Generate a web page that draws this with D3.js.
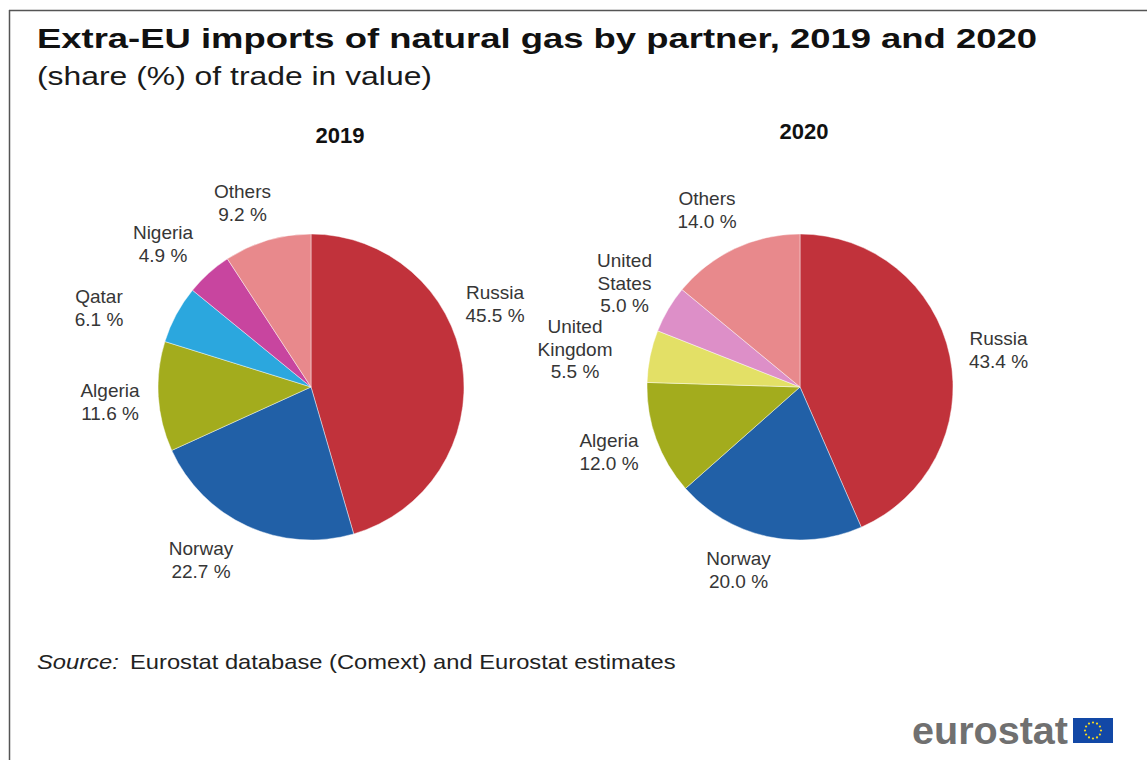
<!DOCTYPE html>
<html>
<head>
<meta charset="utf-8">
<script src="https://cdn.jsdelivr.net/npm/d3@7"></script>
<style>
  html, body { margin: 0; padding: 0; background: #fff; }
  svg { display: block; font-family: "Liberation Sans", Arial, sans-serif; }
</style>
</head>
<body>
<svg id="chart" width="1147" height="760"></svg>
<script>
// ---------------- DATA ----------------
const years = ["2019", "2020"];
const partners2019 = ["Russia", "Norway", "Algeria", "Qatar", "Nigeria", "Others"];
const shares2019 = [45.5, 22.7, 11.6, 6.1, 4.9, 9.2];
const partners2020 = ["Russia", "Norway", "Algeria", "United Kingdom", "United States", "Others"];
const shares2020 = [43.4, 20.0, 12.0, 5.5, 5.0, 14.0];

const titleText = "Extra-EU imports of natural gas by partner, 2019 and 2020";
const subtitleText = "(share (%) of trade in value)";
const sourceLabel = "Source:";
const sourceText = "Eurostat database (Comext) and Eurostat estimates";
const logoText = "eurostat";

// ---------------- STYLE / LAYOUT ----------------
const colors = {
  "Russia": "#c1323b",
  "Norway": "#2160a7",
  "Algeria": "#a3ac1d",
  "Qatar": "#2ba7de",
  "Nigeria": "#c8459f",
  "Others": "#e8898c",
  "United Kingdom": "#e3e066",
  "United States": "#dd8fc8"
};
const pies = [
  { year: years[0], names: partners2019, values: shares2019, cx: 311, cy: 387, titleX: 340, titleY: 143,
    labelOffsets: [[184, -88], [-110, 168], [-201, 10], [-212, -84], [-148, -148], [-68.5, -189]] },
  { year: years[1], names: partners2020, values: shares2020, cx: 800, cy: 387, titleX: 804, titleY: 139,
    labelOffsets: [[198.5, -42], [-61.5, 178], [-191, 60], [-225, -54], [-175.5, -120], [-93, -182]] }
];
const radius = 153;
const lineH = 22.5;

const svg = d3.select("#chart");
svg.append("rect").attr("width", 1147).attr("height", 760).attr("fill", "#fff");

// frame (top and left edges visible)
svg.append("line").attr("x1", 9).attr("y1", 10.5).attr("x2", 1147).attr("y2", 10.5)
  .attr("stroke", "#555").attr("stroke-width", 1.5);
svg.append("line").attr("x1", 9.5).attr("y1", 10).attr("x2", 9.5).attr("y2", 760)
  .attr("stroke", "#555").attr("stroke-width", 1.5);

// Title and subtitle
svg.append("text").attr("x", 37).attr("y", 48)
  .attr("font-size", 28).attr("font-weight", "bold").attr("fill", "#111")
  .attr("textLength", 1000).attr("lengthAdjust", "spacingAndGlyphs")
  .text(titleText);
svg.append("text").attr("x", 37).attr("y", 85)
  .attr("font-size", 26.5).attr("fill", "#1a1a1a")
  .attr("textLength", 395).attr("lengthAdjust", "spacingAndGlyphs")
  .text(subtitleText);

const fmt = d3.format(".1f");
const pie = d3.pie().sort(null).value(d => d.value);
const arc = d3.arc().innerRadius(0).outerRadius(radius);

pies.forEach(p => {
  const data = p.names.map((n, i) => ({ name: n, value: p.values[i], off: p.labelOffsets[i] }));
  const g = svg.append("g").attr("transform", `translate(${p.cx},${p.cy})`);

  g.selectAll("path.slice").data(pie(data)).join("path")
    .attr("class", "slice")
    .attr("d", arc)
    .attr("fill", d => colors[d.data.name])
    .attr("stroke", "rgba(255,255,255,0.55)")
    .attr("stroke-width", 0.8);

  const lab = g.selectAll("text.lab").data(pie(data)).join("text")
    .attr("class", "lab")
    .attr("text-anchor", "middle")
    .attr("font-size", 19)
    .attr("fill", "#363636");
  lab.each(function(d) {
    const lines = d.data.name.split(" ").concat([fmt(d.data.value) + " %"]);
    const t = d3.select(this);
    lines.forEach((ln, i) => {
      t.append("tspan")
        .attr("x", d.data.off[0])
        .attr("y", d.data.off[1] + i * lineH)
        .text(ln);
    });
  });

  svg.append("text").attr("x", p.titleX).attr("y", p.titleY)
    .attr("text-anchor", "middle").attr("font-size", 22).attr("font-weight", "bold")
    .attr("fill", "#111").text(p.year);
});

// Source line
const src = svg.append("text").attr("font-size", 21).attr("fill", "#222");
src.append("tspan").attr("font-style", "italic").text(sourceLabel);
src.append("tspan").attr("dx", 10).text(sourceText);
(function fit() {
  const w = src.node().getBBox().width || 639;
  const k = 639 / w;
  src.attr("transform", `translate(37,669) scale(${k},1)`);
})();

// eurostat logo
svg.append("text").attr("x", 912).attr("y", 744)
  .attr("font-size", 38).attr("font-weight", "bold").attr("fill", "#707070")
  .attr("textLength", 156).attr("lengthAdjust", "spacingAndGlyphs")
  .text(logoText);
const flag = svg.append("g").attr("transform", "translate(1073,718)");
flag.append("rect").attr("width", 40).attr("height", 25).attr("fill", "#1248a6");
flag.selectAll("circle").data(d3.range(12)).join("circle")
  .attr("cx", i => 20 + 8 * Math.sin(i * Math.PI / 6))
  .attr("cy", i => 12.5 - 8 * Math.cos(i * Math.PI / 6))
  .attr("r", 1.1).attr("fill", "#f5d820");
</script>
</body>
</html>
